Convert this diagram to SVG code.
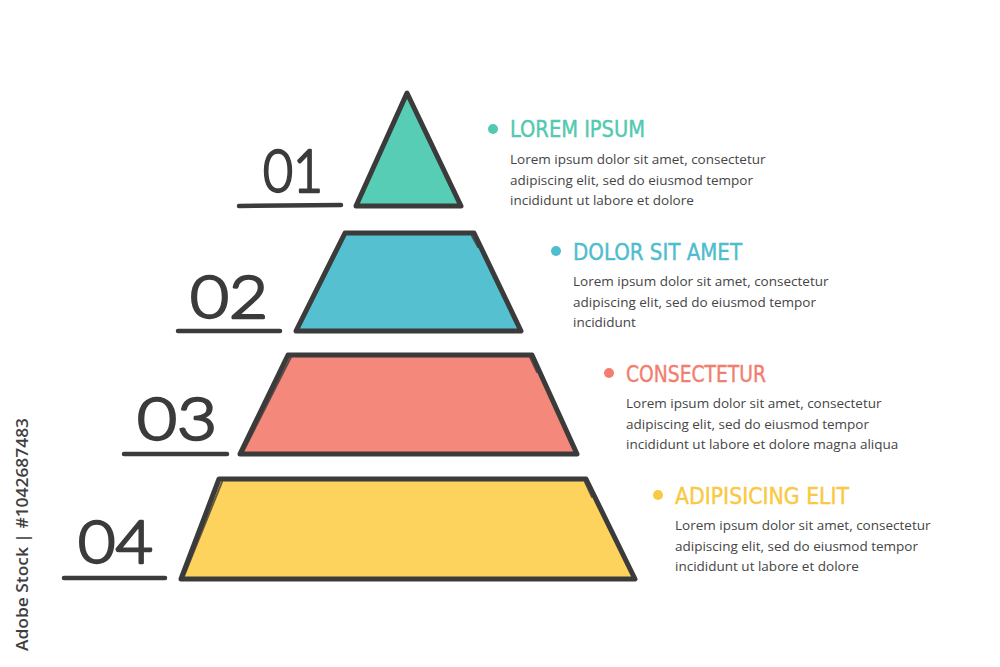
<svg xmlns="http://www.w3.org/2000/svg" width="1000" height="667" viewBox="0 0 1000 667">
<style>
.shape{stroke:#3b3b3b;stroke-width:5;stroke-linejoin:round;stroke-linecap:round}
.sketch{fill:none;stroke:#3b3b3b;stroke-width:2;stroke-linecap:round;opacity:.8}
.num{font-family:Lato,"Open Sans",sans-serif;font-weight:300;font-size:60px;fill:#3b3b3b;stroke:#3b3b3b;stroke-width:2.5;stroke-linejoin:round}
.uline{stroke:#3b3b3b;stroke-width:4.5;stroke-linecap:round}
.head{font-family:"Liberation Sans Narrow","DejaVu Sans Condensed","Liberation Sans",sans-serif;font-size:23px;stroke-width:0.4}
.body{font-family:"Open Sans","Noto Sans",sans-serif;font-size:13.5px;fill:#454545}
</style>
<rect width="1000" height="667" fill="#ffffff"/>
<g id="level1">
<polygon class="shape" points="407,93 461,206 356,206" fill="#57CDB5"/>
<path class="sketch" d="M405,96 L357,204"/>
<text class="num" x="263" y="192" textLength="60" lengthAdjust="spacingAndGlyphs">01</text>
<line class="uline" x1="239" y1="206" x2="341" y2="205"/>
</g>
<g id="level2">
<polygon class="shape" points="345,233 474,233 521,331 296,331" fill="#55C0D0"/>
<path class="sketch" d="M472,236 L478,247"/>
<text class="num" x="190" y="318" textLength="78" lengthAdjust="spacingAndGlyphs">02</text>
<line class="uline" x1="178" y1="331" x2="280" y2="331"/>
</g>
<g id="level3">
<polygon class="shape" points="288,355 532,355 577,454 240,454" fill="#F4887A"/>
<path class="sketch" d="M530,357 L537,372 M291,357 L243,452"/>
<text class="num" x="137" y="440" textLength="80" lengthAdjust="spacingAndGlyphs">03</text>
<line class="uline" x1="124" y1="454" x2="227" y2="454"/>
</g>
<g id="level4">
<polygon class="shape" points="219,479 586,479 635,579 181,579" fill="#FDD35D"/>
<path class="sketch" d="M585,482 L592,497 M222,482 L184,576"/>
<text class="num" x="78" y="563" textLength="75" lengthAdjust="spacingAndGlyphs">04</text>
<line class="uline" x1="64" y1="578" x2="165" y2="578"/>
</g>
<g id="text1">
<circle cx="493" cy="129" r="5" fill="#52C9B0"/>
<text class="head" x="510" y="137" fill="#52C9B0" stroke="#52C9B0" textLength="135" lengthAdjust="spacingAndGlyphs">LOREM IPSUM</text>
<text class="body" x="510" y="164">Lorem ipsum dolor sit amet, consectetur</text>
<text class="body" x="510" y="185">adipiscing elit, sed do eiusmod tempor</text>
<text class="body" x="510" y="205">incididunt ut labore et dolore</text>
</g>
<g id="text2">
<circle cx="556" cy="251" r="5" fill="#4EBDCD"/>
<text class="head" x="573" y="260" fill="#4EBDCD" stroke="#4EBDCD" textLength="169" lengthAdjust="spacingAndGlyphs">DOLOR SIT AMET</text>
<text class="body" x="573" y="286">Lorem ipsum dolor sit amet, consectetur</text>
<text class="body" x="573" y="307">adipiscing elit, sed do eiusmod tempor</text>
<text class="body" x="573" y="327">incididunt</text>
</g>
<g id="text3">
<circle cx="609" cy="373" r="5" fill="#F27E70"/>
<text class="head" x="626" y="382" fill="#F27E70" stroke="#F27E70" textLength="140" lengthAdjust="spacingAndGlyphs">CONSECTETUR</text>
<text class="body" x="626" y="408">Lorem ipsum dolor sit amet, consectetur</text>
<text class="body" x="626" y="429">adipiscing elit, sed do eiusmod tempor</text>
<text class="body" x="626" y="449">incididunt ut labore et dolore magna aliqua</text>
</g>
<g id="text4">
<circle cx="658" cy="495" r="5" fill="#F9C943"/>
<text class="head" x="675" y="504" fill="#F9C943" stroke="#F9C943" textLength="174" lengthAdjust="spacingAndGlyphs">ADIPISICING ELIT</text>
<text class="body" x="675" y="530">Lorem ipsum dolor sit amet, consectetur</text>
<text class="body" x="675" y="551">adipiscing elit, sed do eiusmod tempor</text>
<text class="body" x="675" y="571">incididunt ut labore et dolore</text>
</g>
<g id="connectors"></g>
<text transform="translate(28,651) rotate(-90)" font-family="'Open Sans','Noto Sans',sans-serif" font-size="16" font-weight="600" fill="#3f3f3f" textLength="233" lengthAdjust="spacingAndGlyphs">Adobe Stock | #1042687483</text>
</svg>
